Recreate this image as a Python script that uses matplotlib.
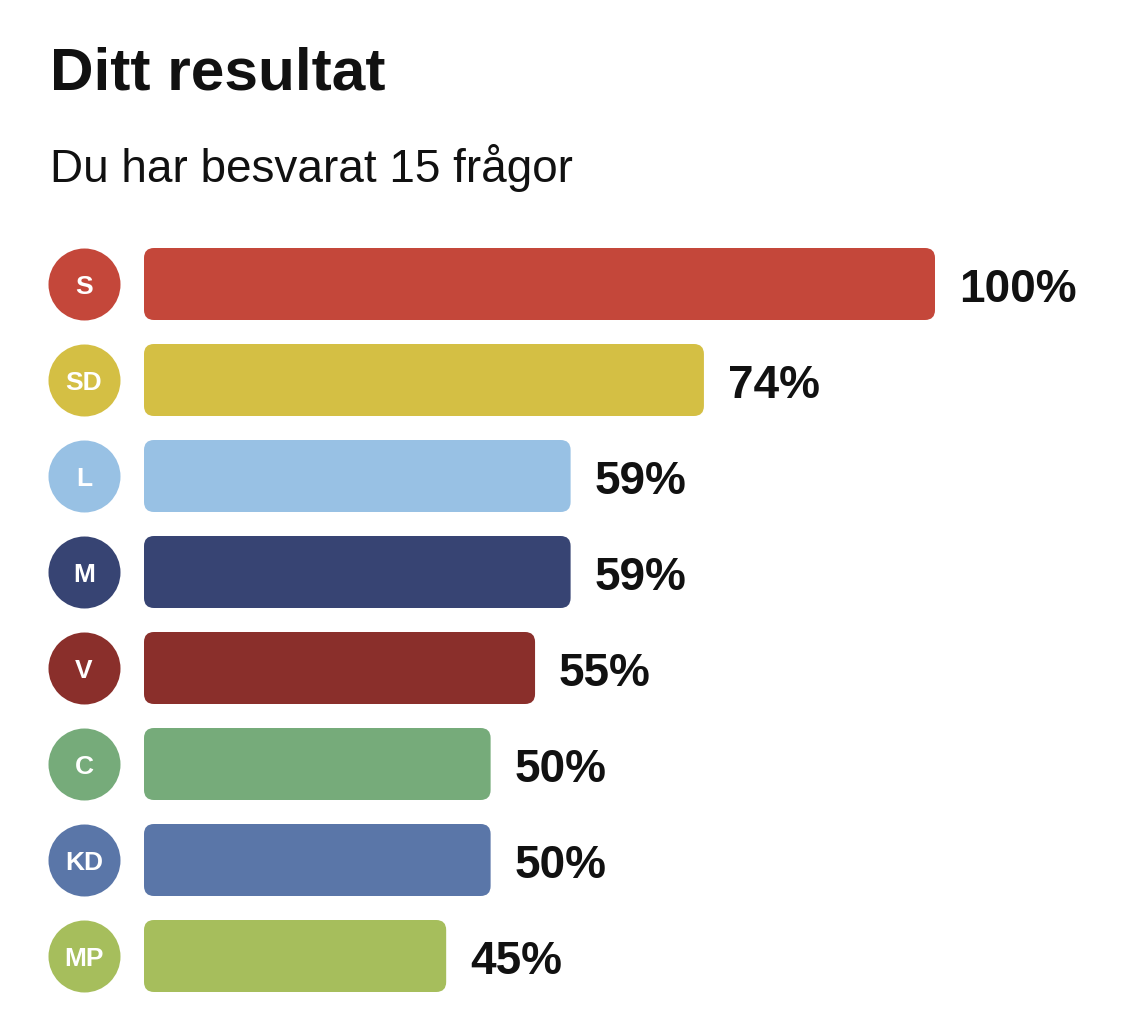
import matplotlib
matplotlib.use("Agg")
import matplotlib.pyplot as plt
from matplotlib.patches import FancyBboxPatch
from matplotlib.transforms import blended_transform_factory

# data
parties = ["S", "SD", "L", "M", "V", "C", "KD", "MP"]
scores = [100, 74, 59, 59, 55, 50, 50, 45]
colors = ["#C4473A", "#D4BF44", "#98C1E4", "#374473",
          "#8A2F2B", "#76AB7A", "#5A76A8", "#A6BE5C"]
title = "Ditt resultat"
subtitle = "Du har besvarat 15 frågor"

FONT = ["Liberation Sans", "DejaVu Sans"]
W, H = 1125, 1033
x_base = 11          # value where bars start
px_per_unit = (935 - 144) / (100 - x_base)

fig = plt.figure(figsize=(W / 100, H / 100), dpi=100)
fig.patch.set_facecolor("white")

# axes placed in pixel terms: bars from x=144 to x=935, rows 96 px apart
ax = fig.add_axes([144 / W, (H - 1004) / H, (935 - 144) / W, 768 / H])
ax.set_xlim(x_base, 100)
ax.set_ylim(len(parties) - 0.5, -0.5)
ax.axis("off")

bar_h = 0.75
radius = 10 / px_per_unit
aspect = px_per_unit / 96

for i, (p, v, c) in enumerate(zip(parties, scores, colors)):
    bar = FancyBboxPatch((x_base, i - bar_h / 2), v - x_base, bar_h,
                         boxstyle=f"round,pad=0,rounding_size={radius}",
                         mutation_aspect=aspect, facecolor=c,
                         edgecolor="none", clip_on=False)
    ax.add_patch(bar)
    ax.annotate(f"{v}%", (v, i), xytext=(24 * 0.72, -13),
                textcoords="offset points", ha="left", va="baseline",
                fontsize=33, fontweight="bold", color="#111111", family=FONT)

# party circles to the left of the bars
trans = blended_transform_factory(ax.transAxes, ax.transData)
cx = -60 / (935 - 144)
for i, (p, c) in enumerate(zip(parties, colors)):
    ax.scatter([cx], [i], s=(72 * 0.72) ** 2, color=c, linewidths=0,
               transform=trans, clip_on=False, zorder=3)
    ax.annotate(p, (cx, i), xycoords=trans, xytext=(0, -7.2),
                textcoords="offset points", ha="center", va="baseline",
                fontsize=19, fontweight="bold", color="white",
                family=FONT, zorder=4)

fig.text(50 / W, (H - 90) / H, title, fontsize=43.5, fontweight="bold",
         color="#111111", family=FONT, ha="left", va="baseline")
fig.text(50 / W, (H - 182) / H, subtitle, fontsize=33,
         color="#111111", family=FONT, ha="left", va="baseline")

fig.savefig("out.png", dpi=100)
